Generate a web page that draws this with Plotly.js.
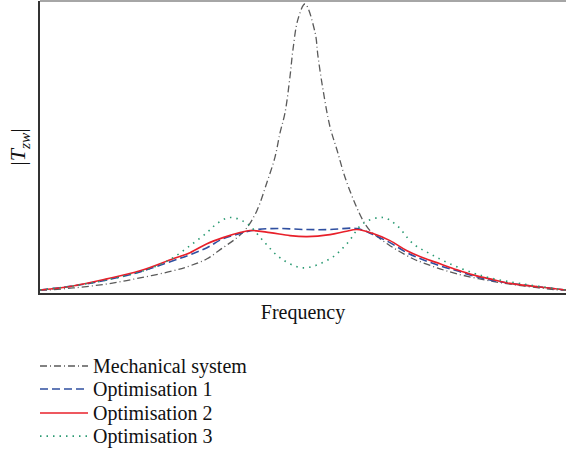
<!DOCTYPE html>
<html>
<head>
<meta charset="utf-8">
<script src="https://cdn.plot.ly/plotly-3.0.1.min.js"></script>
<style>html,body{margin:0;padding:0;background:#fff;}#chart{width:566px;height:464px;}</style>
</head>
<body>
<div id="chart"></div>
<script>
// Frequency (arbitrary units) and |Tzw| magnitude (arbitrary units)
const freqMech = [0, 7, 33, 67, 100, 133, 150, 167, 183, 197, 207, 217, 227, 235, 240, 245, 250, 253, 258, 265, 275, 278, 283, 290, 297, 305, 315, 323, 330, 340, 350, 360, 373, 383, 400, 417, 450, 483, 520, 526];
const magMech  = [3, 3, 5, 9, 15, 22, 27, 34, 45, 55, 65, 82, 110, 135, 159, 179, 215, 242, 272, 287, 259, 235, 202, 165, 142, 115, 89, 72, 62, 54, 47, 41, 34, 30, 24, 19, 12, 7, 3, 3];

const freqOpt1 = [0, 33, 67, 100, 133, 150, 167, 183, 200, 217, 240, 267, 290, 317, 333, 350, 367, 383, 400, 417, 433, 450, 467, 500, 526];
const magOpt1  = [3, 7, 13, 21, 32, 38, 45, 54, 59, 63, 64, 63, 63, 64, 58, 50, 40, 33, 27, 22, 17, 13, 10, 6, 3];

const freqOpt2 = [0, 33, 67, 100, 133, 150, 167, 183, 200, 210, 230, 250, 267, 290, 305, 317, 333, 350, 367, 383, 400, 417, 433, 450, 467, 500, 526];
const magOpt2  = [3, 7, 14, 22, 34, 40, 49, 55, 60, 62, 60, 57, 56, 58, 61, 63, 59, 52, 42, 35, 29, 23, 18, 14, 10, 6, 3];

const freqOpt3 = [0, 33, 67, 100, 117, 133, 150, 167, 177, 190, 207, 223, 240, 263, 290, 307, 323, 343, 357, 373, 390, 410, 433, 450, 483, 526];
const magOpt3  = [3, 7, 13, 21, 27, 35, 47, 60, 69, 75, 69, 52, 35, 25, 34, 49, 69, 75, 67, 49, 39, 29, 20, 15, 9, 3];

const seriesNames = ['Mechanical system', 'Optimisation 1', 'Optimisation 2', 'Optimisation 3'];
const seriesColors = ['#5a5a5a', '#2f4fa0', '#e8202a', '#2a9a72'];
const seriesDash = ['7px,3px,1px,3px', '8px,4px', 'solid', '1.5px,5px'];
const seriesWidth = [1.3, 1.6, 1.6, 1.6];

const xs = [freqMech, freqOpt1, freqOpt2, freqOpt3];
const ys = [magMech, magOpt1, magOpt2, magOpt3];

const traces = xs.map((x, i) => ({
  x: x, y: ys[i], name: seriesNames[i], mode: 'lines', showlegend: false,
  line: {color: seriesColors[i], width: seriesWidth[i], dash: seriesDash[i], shape: 'spline'}
}));

// manual legend below the plot
const legendY = [-0.25, -0.329, -0.411, -0.49];
const shapes = [{type: 'line', xref: 'paper', yref: 'paper', x0: 0, x1: 1, y0: 1, y1: 1,
                 line: {color: '#888', width: 1.5}}];
const annotations = [];
seriesNames.forEach((n, i) => {
  shapes.push({type: 'line', xref: 'paper', yref: 'paper', x0: 0, x1: 0.0913,
               y0: legendY[i], y1: legendY[i],
               line: {color: seriesColors[i], width: seriesWidth[i], dash: seriesDash[i]}});
  annotations.push({xref: 'paper', yref: 'paper', x: 0.097, y: legendY[i], xanchor: 'left', yanchor: 'middle',
                    text: n, showarrow: false, font: {size: 20, family: 'Liberation Serif, serif', color: '#111'}});
});

const layout = {
  width: 566, height: 464,
  margin: {l: 40, r: 0, t: 1, b: 171},
  paper_bgcolor: '#fff', plot_bgcolor: '#fff',
  font: {family: 'Liberation Serif, serif', color: '#111', size: 16},
  xaxis: {range: [0, 526], showgrid: false, zeroline: false, showticklabels: false, ticks: '',
          showline: true, linecolor: '#333', linewidth: 2, mirror: false,
          title: {text: 'Frequency', font: {size: 20}, standoff: 11}},
  yaxis: {range: [0, 290], showgrid: false, zeroline: false, showticklabels: false, ticks: '',
          showline: true, linecolor: '#333', linewidth: 2,
          title: {text: '|<i>T</i><sub><i>zw</i></sub>|', font: {size: 22}, standoff: 6}},
  shapes: shapes,
  annotations: annotations,
  showlegend: false
};

Plotly.newPlot('chart', traces, layout, {staticPlot: true});
</script>
</body>
</html>
